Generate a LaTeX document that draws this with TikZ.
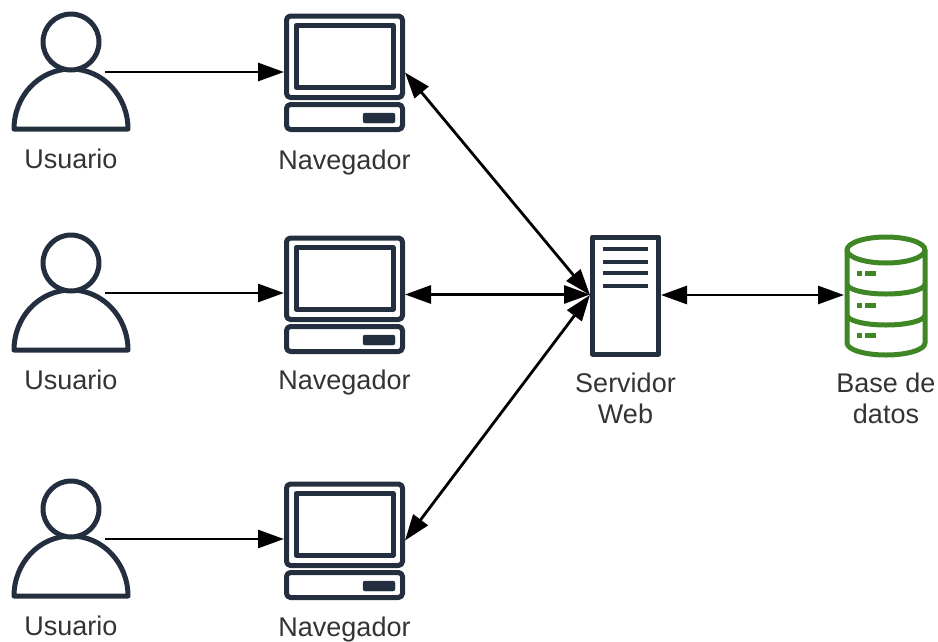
\documentclass[tikz,border=0pt]{standalone}
\usepackage{fontspec}
\setmainfont{Liberation Sans}
\usetikzlibrary{arrows.meta,positioning}
\definecolor{azul}{HTML}{232F3E}
\definecolor{verde}{HTML}{3F8624}
\definecolor{texto}{HTML}{333333}
\tikzset{
  x=1pt, y=-1pt,
  icono/.style = {inner sep=0pt, outer sep=0pt},
  etiqueta/.style = {align=center, inner sep=0pt, text=texto, font=\fontsize{27}{31}\selectfont},
  flecha/.style = {black, line width=2.8pt, -{Triangle[length=26pt,width=18pt]}},
  doble/.style = {black, line width=2.8pt, {Triangle[length=26pt,width=18pt]}-{Triangle[length=26pt,width=18pt]}},
  trazo/.style = {azul, line width=5pt, line join=round},
  trazoverde/.style = {verde, line width=5pt, line join=round},
  pics/usuario/.style = {code={
    \node [icono, minimum width=118pt, minimum height=118pt] (-box) {};
    \coordinate (-cuello) at (34,1);
    \draw [trazo] (-57,58) arc [start angle=180, end angle=0, x radius=57, y radius=-60] -- cycle;
    \draw [trazo, fill=white] (0,-29) circle [radius=28];
  }},
  pics/navegador/.style = {code={
    \node [icono, minimum width=121pt, minimum height=117pt] (-box) {};
    \draw [trazo, rounded corners=4pt] (-58,-56.5) rectangle (58,25);
    \draw [trazo] (-48.5,-47) rectangle (48.5,14.5);
    \draw [trazo, rounded corners=4pt] (-58,32) rectangle (58,57);
    \draw [azul, fill=azul, rounded corners=2pt] (18.5,40.5) rectangle (50.5,50.5);
  }},
  pics/servidor/.style = {code={
    \node [icono, minimum width=71pt, minimum height=119pt] (-box) {};
    \draw [trazo] (-33,-58) rectangle (33,59);
    \foreach \y in {-46,-33,-22,-9}
      \draw [azul, line width=4pt] (-23,\y) -- (22,\y);
  }},
  pics/basedatos/.style = {code={
    \node [icono, minimum width=84pt, minimum height=120pt] (-box) {};
    \draw [trazoverde] (0,-45) ellipse [x radius=39, y radius=13];
    \draw [trazoverde] (-39,-45) -- (-39,48) arc [start angle=180, end angle=360, x radius=39, y radius=-12] -- (39,-45);
    \draw [trazoverde] (-39,-11) arc [start angle=180, end angle=360, x radius=39, y radius=-10];
    \draw [trazoverde] (-39,20) arc [start angle=180, end angle=360, x radius=39, y radius=-10];
    \foreach \y in {-22,10,40} {
      \draw [verde, line width=5pt] (-29,\y) -- (-24,\y);
      \draw [verde, line width=5pt] (-21,\y) -- (-10,\y);
    }
  }},
}
\begin{document}
\begin{tikzpicture}
\useasboundingbox (0,0) rectangle (938,641);

% fila superior
\pic (U1) at (71,71) {usuario};
\pic (N1) at (344.5,72.5) {navegador};
\node [etiqueta, below=19pt of U1-box] (tU1) {Usuario};
\node [etiqueta, below=19pt of N1-box] (tN1) {Navegador};

% fila central
\pic (U2) at (71,292) {usuario};
\pic (N2) at (344.5,294.5) {navegador};
\node [etiqueta, below=19pt of U2-box] (tU2) {Usuario};
\node [etiqueta, below=17pt of N2-box] (tN2) {Navegador};

% fila inferior
\pic (U3) at (71,538) {usuario};
\pic (N3) at (344.5,540.5) {navegador};
\node [etiqueta, below=19pt of U3-box] (tU3) {Usuario};
\node [etiqueta, below=17.5pt of N3-box] (tN3) {Navegador};

\pic (S) at (625.5,295) {servidor};
\pic (B) at (886,295) {basedatos};
\node [etiqueta, below=18pt of S-box] (tS) {Servidor\\Web};
\node [etiqueta, below=18pt of B-box] (tB) {Base de\\datos};

\draw [flecha] (U1-cuello) -- (U1-cuello -| N1-box.west);
\draw [flecha] (U2-cuello) -- (U2-cuello -| N2-box.west);
\draw [flecha] (U3-cuello) -- (U3-cuello -| N3-box.west);

\draw [doble] (N1-box.east) -- (S-box.west);
\draw [doble] (N2-box.east) -- (N2-box.east -| S-box.west);
\draw [doble] (N3-box.east) -- (S-box.west);
\draw [doble] (S-box.east) -- (B-box.west);
\end{tikzpicture}
\end{document}
